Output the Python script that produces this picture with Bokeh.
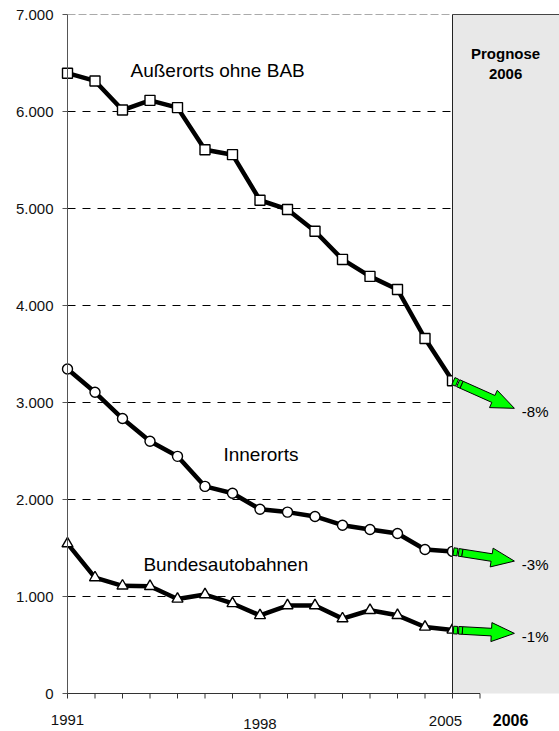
import math
from bokeh.plotting import figure
from bokeh.models import Range1d
from bokeh.core.properties import value
from bokeh.embed import file_html
from bokeh.resources import INLINE

# ---------------- data ----------------
years = list(range(1991, 2006))
ausserorts = [6395, 6315, 6015, 6115, 6040, 5605, 5555, 5085, 4990, 4765, 4475, 4300, 4165, 3660, 3225]
innerorts = [3345, 3105, 2835, 2600, 2445, 2135, 2065, 1900, 1870, 1825, 1735, 1690, 1650, 1485, 1465]
autobahn = [1545, 1195, 1110, 1105, 975, 1020, 928, 805, 907, 907, 772, 858, 806, 686, 655]
series_names = ["Außerorts ohne BAB", "Innerorts", "Bundesautobahnen"]
forecast_labels = ["-8%", "-3%", "-1%"]
forecast_targets = [2940, 1365, 620]       # arrow tip values (2006 forecast)
forecast_year = 2006
y_ticks = [0, 1000, 2000, 3000, 4000, 5000, 6000, 7000]
y_tick_labels = ["0", "1.000", "2.000", "3.000", "4.000", "5.000", "6.000", "7.000"]
x_tick_years = [1991, 1998, 2005]
x_tick_labels = ["1991", "1998", "2005"]

# ---------------- layout ----------------
FONT = "Liberation Sans"
W, H = 559, 731
PX_PER_YEAR = 27.5
PX_PER_UNIT = 0.097
X0 = 1991 - 67 / PX_PER_YEAR
X1 = X0 + W / PX_PER_YEAR
Y0 = -38 / PX_PER_UNIT
Y1 = 7000 + 14 / PX_PER_UNIT
SX = W / (X1 - X0)
SY = H / (Y1 - Y0)
YTOP = y_ticks[-1]

p = figure(frame_width=W, frame_height=H,
           x_range=Range1d(X0, X1), y_range=Range1d(Y0, Y1),
           output_backend="svg", toolbar_location=None,
           min_border_left=0, min_border_right=0, min_border_top=0, min_border_bottom=0)
p.outline_line_color = None
p.xgrid.visible = False
p.ygrid.visible = False
p.axis.visible = False
p.background_fill_color = "white"
p.border_fill_color = "white"

# gridlines (dashed) from the y ticks
for t in y_ticks[1:-1]:
    p.segment(x0=years[0], x1=years[-1], y0=t, y1=t, line_color="black", line_width=1, line_dash="8 7")
p.segment(x0=years[0], x1=forecast_year, y0=YTOP, y1=YTOP, line_color="#aaaaaa", line_width=1,
          line_dash="8 3")

# series
line_kw = dict(line_color="black", line_width=4.5, line_join="round")
mk_kw = dict(fill_color="white", line_color="black", line_width=1.4)
p.line(years, ausserorts, **line_kw)
p.scatter(years, ausserorts, marker="square", size=10, **mk_kw)
p.line(years, innerorts, **line_kw)
p.scatter(years, innerorts, marker="circle", size=10, **mk_kw)
p.line(years, autobahn, **line_kw)
p.scatter(years, autobahn, marker="triangle", size=11, **mk_kw)

# forecast box
p.quad(left=years[-1], right=X1, bottom=0, top=YTOP, fill_color="#e8e8e8", line_color=None)
p.segment(x0=years[-1], x1=years[-1], y0=0, y1=YTOP, line_color="#222222", line_width=1)
p.segment(x0=years[-1], x1=X1, y0=YTOP, y1=YTOP, line_color="#444444", line_width=1)

# arrows
def arrow_shapes(xa, ya, xb, yb, hw=3.8, HW=9.5, HL=23):
    ax, ay = (xa - X0) * SX, (ya - Y0) * SY
    bx, by = (xb - X0) * SX, (yb - Y0) * SY
    dx, dy = bx - ax, by - ay
    L = math.hypot(dx, dy)
    ux, uy = dx / L, dy / L
    nx, ny = -uy, ux

    def pt(s, w):
        return ((ax + ux * s + nx * w) / SX + X0, (ay + uy * s + ny * w) / SY + Y0)

    shapes = [
        [pt(1.0, -hw), pt(5.0, -hw), pt(5.0, hw), pt(1.0, hw)],
        [pt(6.2, -hw), pt(10.0, -hw), pt(10.0, hw), pt(6.2, hw)],
        [pt(10.0, -hw), pt(L - HL, -hw), pt(L - HL, -HW), pt(L, 0),
         pt(L - HL, HW), pt(L - HL, hw), pt(10.0, hw)],
    ]
    return [[q[0] for q in s] for s in shapes], [[q[1] for q in s] for s in shapes]

tip_year = forecast_year + 1.25
xs_all, ys_all = [], []
for vals, tgt in zip([ausserorts, innerorts, autobahn], forecast_targets):
    xs, ys = arrow_shapes(years[-1], vals[-1], tip_year, tgt)
    xs_all += xs
    ys_all += ys
p.patches(xs_all, ys_all, fill_color="#00ff00", line_color="black", line_width=1)

# y axis (drawn by hand)
p.segment(x0=years[0], x1=years[0], y0=0, y1=YTOP, line_color="#555555", line_width=1)
p.segment(x0=[years[0] - 5 / SX] * len(y_ticks), x1=[years[0]] * len(y_ticks), y0=y_ticks, y1=y_ticks,
          line_color="#555555", line_width=1)
p.text(x=[years[0] - 14 / SX] * len(y_ticks), y=y_ticks, text=y_tick_labels,
       text_font=value(FONT), text_font_size="15px", text_color="#111111",
       text_align="right", text_baseline="middle")

# x axis (drawn by hand)
all_years = list(range(years[0], forecast_year + 1))
p.segment(x0=years[0], x1=forecast_year, y0=0, y1=0, line_color="#333333", line_width=1)
p.segment(x0=all_years, x1=all_years, y0=[0] * len(all_years), y1=[-5 / SY] * len(all_years),
          line_color="#333333", line_width=1)
x_label_pos = [x_tick_years[0], x_tick_years[1], x_tick_years[2] - 7 / SX]
x_label_dy = [26, 30, 27]
p.text(x=x_label_pos, y=[-d / SY for d in x_label_dy], text=x_tick_labels,
       text_font=value(FONT), text_font_size="15px", text_color="#111111",
       text_align="center", text_baseline="middle")
p.text(x=[forecast_year + 1.11], y=[-26 / SY], text=[str(forecast_year)],
       text_font=value(FONT), text_font_size="16px", text_font_style="bold",
       text_color="black", text_align="center", text_baseline="middle")

# texts
def lab(x, y, text, size, bold=False, align="left"):
    p.text(x=[x], y=[y], text=[text], text_font=value(FONT), text_font_size=size,
           text_font_style="bold" if bold else "normal", text_align=align,
           text_baseline="middle", text_color="black")

lab(1993.29, 6418, series_names[0], "19px")
lab(1996.67, 2464, series_names[1], "19px")
lab(1993.76, 1330, series_names[2], "19px")
lab(2006.93, 6600, "Prognose", "15px", bold=True, align="center")
lab(2006.93, 6385, str(forecast_year), "15px", bold=True, align="center")
for tgt, txt in zip(forecast_targets, forecast_labels):
    lab(tip_year + 0.27, tgt - 30, txt, "15px")

open("out.html", "w").write(file_html(p, INLINE))
